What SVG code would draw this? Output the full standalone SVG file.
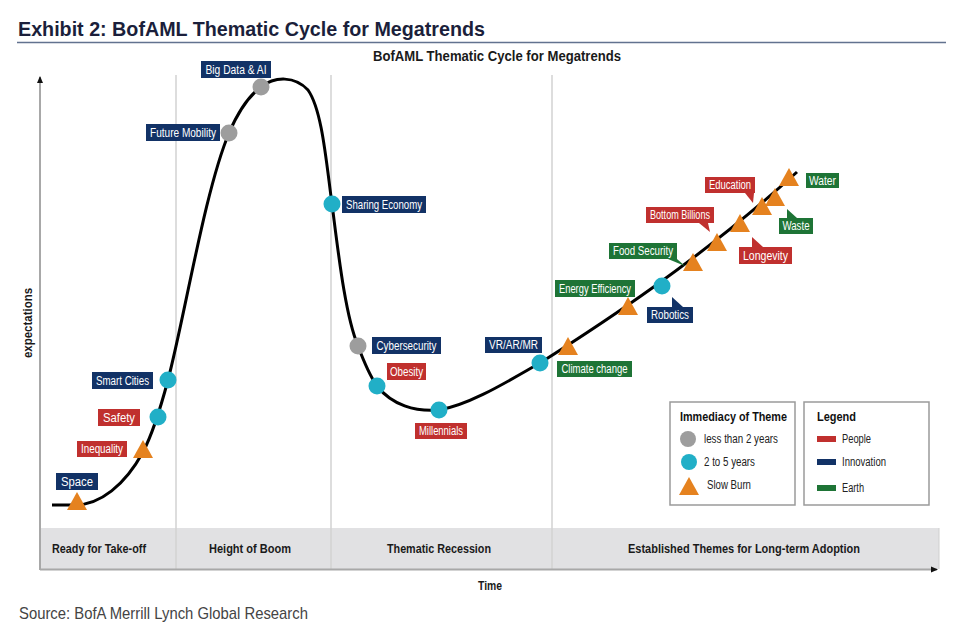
<svg xmlns="http://www.w3.org/2000/svg" width="956" height="633" viewBox="0 0 956 633">
<defs>
<style>
.t{font-family:"Liberation Sans Narrow","Liberation Sans",Arial,sans-serif}
.lbl{font-family:"Liberation Sans Narrow","Liberation Sans",Arial,sans-serif;font-size:12px;fill:#fff;text-anchor:middle}
.nav{fill:#123266}.red{fill:#c0302e}.grn{fill:#1e7436}
.teal{fill:#21afc7}.gray{fill:#9d9d9d}.tri{fill:#e5821f}
.band{font-family:"Liberation Sans Narrow","Liberation Sans",Arial,sans-serif;font-size:12px;font-weight:bold;fill:#1a1a1a;text-anchor:middle}
.leg{font-family:"Liberation Sans Narrow","Liberation Sans",Arial,sans-serif;font-size:12px;fill:#222}
.legb{font-family:"Liberation Sans Narrow","Liberation Sans",Arial,sans-serif;font-size:13px;font-weight:bold;fill:#111}
.div{stroke:#d2d2d2;stroke-width:1.5}
.axis{stroke:#a8a8a8;stroke-width:2;fill:none}
.box{fill:#fff;stroke:#9a9a9a;stroke-width:1.5}
</style>
<marker id="ah" markerWidth="8" markerHeight="8" refX="6" refY="4" orient="auto" markerUnits="userSpaceOnUse">
<path d="M0,1 L7,4 L0,7 Z" fill="#111"/>
</marker>
<path id="trishape" d="M-10,8 L10,8 L0,-10 Z"/>
</defs>
<rect width="956" height="633" fill="#fff"/>

<g id="header">
<text x="18" y="36" class="t" font-size="21" font-weight="bold" fill="#1b1f3b" textLength="467" lengthAdjust="spacingAndGlyphs">Exhibit 2: BofAML Thematic Cycle for Megatrends</text>
<line x1="17" y1="42.5" x2="946" y2="42.5" stroke="#62728f" stroke-width="1.5"/>
<text x="497" y="61" class="t" font-size="14" font-weight="bold" fill="#1a1a1a" text-anchor="middle" textLength="248" lengthAdjust="spacingAndGlyphs">BofAML Thematic Cycle for Megatrends</text>
</g>

<g id="phases">
<rect x="40" y="528" width="899" height="41" fill="#e1e1e3"/>
<line x1="939" y1="528" x2="939" y2="569" stroke="#cfcfcf" stroke-width="1"/>
<line class="div" x1="176" y1="75" x2="176" y2="569"/>
<line class="div" x1="331" y1="75" x2="331" y2="569"/>
<line class="div" x1="552" y1="75" x2="552" y2="569"/>
<text class="band" x="99" y="553" textLength="94" lengthAdjust="spacingAndGlyphs">Ready for Take-off</text>
<text class="band" x="250" y="553" textLength="82" lengthAdjust="spacingAndGlyphs">Height of Boom</text>
<text class="band" x="439" y="553" textLength="104" lengthAdjust="spacingAndGlyphs">Thematic Recession</text>
<text class="band" x="744" y="553" textLength="232" lengthAdjust="spacingAndGlyphs">Established Themes for Long-term Adoption</text>
</g>

<g id="axes">
<line class="axis" x1="40" y1="570" x2="40" y2="77" marker-end="url(#ah)"/>
<line class="axis" x1="40" y1="569.5" x2="937" y2="569.5" marker-end="url(#ah)"/>
<text x="490" y="590" class="band" textLength="24" lengthAdjust="spacingAndGlyphs">Time</text>
<text transform="translate(32,323) rotate(-90)" class="band" textLength="70" lengthAdjust="spacingAndGlyphs">expectations</text>
</g>

<g id="connectors">
<path d="M52,505 L75,505 C100,505 125,485 143,452 C152,435 160,410 168,380 C185,315 205,190 229,133 C238,112 250,95 261,87 C275,76 295,76 308,90 C322,110 326,160 332,204 C338,250 345,315 358,346 C364,362 370,376 377,386 C392,405 415,412 439,410 C470,405 510,380 540,363 C600,325 700,260 797,172" fill="none" stroke="#000" stroke-width="3"/>
</g>

<g id="space">
<use href="#trishape" class="tri" x="77" y="502"/>
<rect class="nav" x="56" y="473" width="42" height="17"/>
<text class="lbl" x="77" y="486" textLength="32" lengthAdjust="spacingAndGlyphs">Space</text>
</g>
<g id="inequality">
<use href="#trishape" class="tri" x="143" y="450"/>
<rect class="red" x="77" y="441" width="50" height="16"/>
<text class="lbl" x="102" y="453" textLength="42" lengthAdjust="spacingAndGlyphs">Inequality</text>
</g>
<g id="safety">
<circle class="teal" cx="158" cy="417" r="8.5"/>
<rect class="red" x="98" y="409" width="42" height="17"/>
<text class="lbl" x="119" y="422" textLength="32" lengthAdjust="spacingAndGlyphs">Safety</text>
</g>
<g id="smart-cities">
<circle class="teal" cx="168" cy="380" r="8.5"/>
<rect class="nav" x="92" y="372" width="61" height="17"/>
<text class="lbl" x="122.5" y="385" textLength="53" lengthAdjust="spacingAndGlyphs">Smart Cities</text>
</g>
<g id="future-mobility">
<circle class="gray" cx="229" cy="133" r="8.5"/>
<rect class="nav" x="146" y="124" width="74" height="17"/>
<text class="lbl" x="183" y="137" textLength="66" lengthAdjust="spacingAndGlyphs">Future Mobility</text>
</g>
<g id="big-data-ai">
<circle class="gray" cx="261" cy="87" r="8.5"/>
<rect class="nav" x="201" y="61" width="70" height="17"/>
<text class="lbl" x="236" y="74" textLength="61" lengthAdjust="spacingAndGlyphs">Big Data &amp; AI</text>
</g>
<g id="sharing-economy">
<circle class="teal" cx="332" cy="204" r="8.5"/>
<rect class="nav" x="342" y="196" width="84" height="17"/>
<text class="lbl" x="384" y="209" textLength="76" lengthAdjust="spacingAndGlyphs">Sharing Economy</text>
</g>
<g id="cybersecurity">
<circle class="gray" cx="358" cy="346" r="8.5"/>
<rect class="nav" x="372" y="337" width="69" height="17"/>
<text class="lbl" x="406.5" y="350" textLength="60" lengthAdjust="spacingAndGlyphs">Cybersecurity</text>
</g>
<g id="obesity">
<circle class="teal" cx="377" cy="386" r="8.5"/>
<rect class="red" x="387" y="363" width="39" height="17"/>
<text class="lbl" x="406.5" y="376" textLength="33" lengthAdjust="spacingAndGlyphs">Obesity</text>
</g>
<g id="millennials">
<circle class="teal" cx="439" cy="410" r="8.5"/>
<rect class="red" x="415" y="423" width="52" height="16"/>
<text class="lbl" x="441" y="435" textLength="44" lengthAdjust="spacingAndGlyphs">Millennials</text>
</g>
<g id="vr-ar-mr">
<circle class="teal" cx="540" cy="363" r="8.5"/>
<rect class="nav" x="485" y="337" width="57" height="16"/>
<text class="lbl" x="513.5" y="349" textLength="49" lengthAdjust="spacingAndGlyphs">VR/AR/MR</text>
</g>
<g id="climate-change">
<use href="#trishape" class="tri" x="568" y="347"/>
<rect class="grn" x="557" y="361" width="75" height="16"/>
<text class="lbl" x="594.5" y="373" textLength="66" lengthAdjust="spacingAndGlyphs">Climate change</text>
</g>
<g id="energy-efficiency">
<use href="#trishape" class="tri" x="628" y="307"/>
<rect class="grn" x="555" y="280" width="80" height="17"/>
<text class="lbl" x="595" y="293" textLength="72" lengthAdjust="spacingAndGlyphs">Energy Efficiency</text>
</g>
<g id="robotics">
<circle class="teal" cx="662" cy="286" r="8.5"/>
<polygon class="nav" points="672,297 683,307 672,307"/>
<rect class="nav" x="647" y="307" width="46" height="16"/>
<text class="lbl" x="670" y="319" textLength="38" lengthAdjust="spacingAndGlyphs">Robotics</text>
</g>
<g id="food-security">
<use href="#trishape" class="tri" x="693" y="263"/>
<polygon class="grn" points="668,259 677,259 685,266"/>
<rect class="grn" x="609" y="243" width="68" height="16"/>
<text class="lbl" x="643" y="255" textLength="60" lengthAdjust="spacingAndGlyphs">Food Security</text>
</g>
<g id="bottom-billions">
<use href="#trishape" class="tri" x="717" y="243"/>
<polygon class="red" points="699,223 708,223 710,232"/>
<rect class="red" x="646" y="207" width="68" height="16"/>
<text class="lbl" x="680" y="219" textLength="60" lengthAdjust="spacingAndGlyphs">Bottom Billions</text>
</g>
<g id="longevity">
<use href="#trishape" class="tri" x="740" y="224"/>
<polygon class="red" points="752,237 752,247 763,247"/>
<rect class="red" x="739" y="247" width="53" height="17"/>
<text class="lbl" x="765.5" y="260" textLength="45" lengthAdjust="spacingAndGlyphs">Longevity</text>
</g>
<g id="education">
<use href="#trishape" class="tri" x="762" y="207"/>
<polygon class="red" points="745,193 754,193 753,203"/>
<rect class="red" x="705" y="177" width="50" height="16"/>
<text class="lbl" x="730" y="189" textLength="42" lengthAdjust="spacingAndGlyphs">Education</text>
</g>
<g id="waste">
<use href="#trishape" class="tri" x="775" y="198"/>
<polygon class="grn" points="787,209 787,218 797,218"/>
<rect class="grn" x="779" y="218" width="34" height="16"/>
<text class="lbl" x="796" y="230" textLength="27" lengthAdjust="spacingAndGlyphs">Waste</text>
</g>
<g id="water">
<use href="#trishape" class="tri" x="789" y="178"/>
<rect class="grn" x="806" y="173" width="33" height="15"/>
<text class="lbl" x="822.5" y="185" textLength="27" lengthAdjust="spacingAndGlyphs">Water</text>
</g>

<g id="immediacy-legend">
<rect class="box" x="670" y="402" width="125" height="103"/>
<text class="legb" x="680" y="421" textLength="107" lengthAdjust="spacingAndGlyphs">Immediacy of Theme</text>
<circle class="gray" cx="688" cy="439" r="8"/>
<text class="leg" x="704" y="443" textLength="74" lengthAdjust="spacingAndGlyphs">less than 2 years</text>
<circle class="teal" cx="689" cy="462" r="8"/>
<text class="leg" x="704" y="466" textLength="51" lengthAdjust="spacingAndGlyphs">2 to 5 years</text>
<use href="#trishape" class="tri" x="689" y="487"/>
<text class="leg" x="707" y="489" textLength="44" lengthAdjust="spacingAndGlyphs">Slow Burn</text>
</g>

<g id="category-legend">
<rect class="box" x="804" y="402" width="125" height="103"/>
<text class="legb" x="817" y="421" textLength="39" lengthAdjust="spacingAndGlyphs">Legend</text>
<rect class="red" x="817" y="436" width="19" height="6"/>
<text class="leg" x="842" y="443" textLength="29" lengthAdjust="spacingAndGlyphs">People</text>
<rect class="nav" x="817" y="459" width="19" height="6"/>
<text class="leg" x="842" y="466" textLength="44" lengthAdjust="spacingAndGlyphs">Innovation</text>
<rect class="grn" x="817" y="485" width="19" height="6"/>
<text class="leg" x="842" y="492" textLength="22" lengthAdjust="spacingAndGlyphs">Earth</text>
</g>

<g id="source">
<text x="19" y="619" class="t" font-size="17" fill="#444" textLength="289" lengthAdjust="spacingAndGlyphs">Source: BofA Merrill Lynch Global Research</text>
</g>
</svg>
